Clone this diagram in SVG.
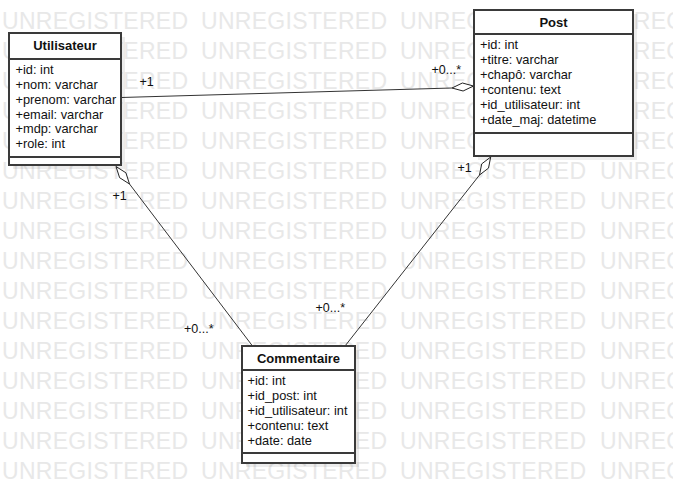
<svg xmlns="http://www.w3.org/2000/svg" width="673" height="503" viewBox="0 0 673 503">
<style>
.wm{font-family:"Liberation Sans",Arial,sans-serif;font-size:23px;letter-spacing:0.3px;fill:#e8e8e8}
.box{fill:#fff;stroke:#3a3a3a;stroke-width:2}
.sep{stroke:#3a3a3a;stroke-width:2}
.shadow{fill:#000;opacity:0.07}
.title{font-family:"Liberation Sans",Arial,sans-serif;font-size:13px;font-weight:bold;fill:#111;text-anchor:middle}
.attr{font-family:"Liberation Sans",Arial,sans-serif;font-size:12.8px;fill:#111}
.lbl{font-family:"Liberation Sans",Arial,sans-serif;font-size:12.5px;fill:#111}
.ln{stroke:#333;stroke-width:1;fill:none}
.dia{fill:#fff;stroke:#222;stroke-width:1}
</style>
<rect width="673" height="503" fill="#fff"/>
<g id="watermark" class="wm">
<text y="29"><tspan x="2">UNREGISTERED</tspan><tspan x="201">UNREGISTERED</tspan><tspan x="400">UNREGISTERED</tspan><tspan x="600">UNREGISTERED</tspan></text>
<text y="59"><tspan x="2">UNREGISTERED</tspan><tspan x="201">UNREGISTERED</tspan><tspan x="400">UNREGISTERED</tspan><tspan x="600">UNREGISTERED</tspan></text>
<text y="89"><tspan x="2">UNREGISTERED</tspan><tspan x="201">UNREGISTERED</tspan><tspan x="400">UNREGISTERED</tspan><tspan x="600">UNREGISTERED</tspan></text>
<text y="119"><tspan x="2">UNREGISTERED</tspan><tspan x="201">UNREGISTERED</tspan><tspan x="400">UNREGISTERED</tspan><tspan x="600">UNREGISTERED</tspan></text>
<text y="149"><tspan x="2">UNREGISTERED</tspan><tspan x="201">UNREGISTERED</tspan><tspan x="400">UNREGISTERED</tspan><tspan x="600">UNREGISTERED</tspan></text>
<text y="179"><tspan x="2">UNREGISTERED</tspan><tspan x="201">UNREGISTERED</tspan><tspan x="400">UNREGISTERED</tspan><tspan x="600">UNREGISTERED</tspan></text>
<text y="209"><tspan x="2">UNREGISTERED</tspan><tspan x="201">UNREGISTERED</tspan><tspan x="400">UNREGISTERED</tspan><tspan x="600">UNREGISTERED</tspan></text>
<text y="239"><tspan x="2">UNREGISTERED</tspan><tspan x="201">UNREGISTERED</tspan><tspan x="400">UNREGISTERED</tspan><tspan x="600">UNREGISTERED</tspan></text>
<text y="269"><tspan x="2">UNREGISTERED</tspan><tspan x="201">UNREGISTERED</tspan><tspan x="400">UNREGISTERED</tspan><tspan x="600">UNREGISTERED</tspan></text>
<text y="299"><tspan x="2">UNREGISTERED</tspan><tspan x="201">UNREGISTERED</tspan><tspan x="400">UNREGISTERED</tspan><tspan x="600">UNREGISTERED</tspan></text>
<text y="329"><tspan x="2">UNREGISTERED</tspan><tspan x="201">UNREGISTERED</tspan><tspan x="400">UNREGISTERED</tspan><tspan x="600">UNREGISTERED</tspan></text>
<text y="359"><tspan x="2">UNREGISTERED</tspan><tspan x="201">UNREGISTERED</tspan><tspan x="400">UNREGISTERED</tspan><tspan x="600">UNREGISTERED</tspan></text>
<text y="389"><tspan x="2">UNREGISTERED</tspan><tspan x="201">UNREGISTERED</tspan><tspan x="400">UNREGISTERED</tspan><tspan x="600">UNREGISTERED</tspan></text>
<text y="419"><tspan x="2">UNREGISTERED</tspan><tspan x="201">UNREGISTERED</tspan><tspan x="400">UNREGISTERED</tspan><tspan x="600">UNREGISTERED</tspan></text>
<text y="449"><tspan x="2">UNREGISTERED</tspan><tspan x="201">UNREGISTERED</tspan><tspan x="400">UNREGISTERED</tspan><tspan x="600">UNREGISTERED</tspan></text>
<text y="479"><tspan x="2">UNREGISTERED</tspan><tspan x="201">UNREGISTERED</tspan><tspan x="400">UNREGISTERED</tspan><tspan x="600">UNREGISTERED</tspan></text>
</g>
<g id="connectors">
<line class="ln" x1="121" y1="97.5" x2="452" y2="88"/>
<polygon class="dia" points="473.5,86 463.1,91 452,88 462.4,83"/>
<line class="ln" x1="129.5" y1="184" x2="252.5" y2="346"/>
<polygon class="dia" points="116,166.5 119.6,177.7 129.5,184 125.9,172.8"/>
<line class="ln" x1="479.5" y1="175" x2="345" y2="346"/>
<polygon class="dia" points="490.7,157 488.5,168.1 479.5,175 481.7,163.9"/>
<text class="lbl" x="139.5" y="86">+1</text>
<text class="lbl" x="431.5" y="74">+0...*</text>
<text class="lbl" x="112.5" y="199.5">+1</text>
<text class="lbl" x="457.5" y="172">+1</text>
<text class="lbl" x="184" y="333">+0...*</text>
<text class="lbl" x="315.5" y="312">+0...*</text>
</g>
<g id="utilisateur">
<rect class="shadow" x="13" y="37" width="112" height="132"/>
<rect class="box" x="9" y="33" width="112" height="132"/>
<line class="sep" x1="9" y1="59" x2="121" y2="59"/>
<line class="sep" x1="9" y1="157" x2="121" y2="157"/>
<text class="title" x="65" y="50">Utilisateur</text>
<text class="attr" x="15.5" y="74">+id: int</text>
<text class="attr" x="15.5" y="89">+nom: varchar</text>
<text class="attr" x="15.5" y="103.8">+prenom: varchar</text>
<text class="attr" x="15.5" y="118.6">+email: varchar</text>
<text class="attr" x="15.5" y="133.4">+mdp: varchar</text>
<text class="attr" x="15.5" y="148.2">+role: int</text>
</g>
<g id="post">
<rect class="shadow" x="478" y="14" width="159" height="146"/>
<rect class="box" x="474" y="10" width="159" height="146"/>
<line class="sep" x1="474" y1="34" x2="633" y2="34"/>
<line class="sep" x1="474" y1="133" x2="633" y2="133"/>
<text class="title" x="553.5" y="27">Post</text>
<text class="attr" x="480" y="49">+id: int</text>
<text class="attr" x="480" y="64">+titre: varchar</text>
<text class="attr" x="480" y="79">+chapô: varchar</text>
<text class="attr" x="480" y="94">+contenu: text</text>
<text class="attr" x="480" y="109">+id_utilisateur: int</text>
<text class="attr" x="480" y="124">+date_maj: datetime</text>
</g>
<g id="commentaire">
<rect class="shadow" x="246" y="350" width="113" height="117"/>
<rect class="box" x="242" y="346" width="113" height="117"/>
<line class="sep" x1="242" y1="370" x2="355" y2="370"/>
<line class="sep" x1="242" y1="453" x2="355" y2="453"/>
<text class="title" x="298.5" y="363">Commentaire</text>
<text class="attr" x="247.5" y="385">+id: int</text>
<text class="attr" x="247.5" y="400">+id_post: int</text>
<text class="attr" x="247.5" y="415">+id_utilisateur: int</text>
<text class="attr" x="247.5" y="430">+contenu: text</text>
<text class="attr" x="247.5" y="445">+date: date</text>
</g>
</svg>
